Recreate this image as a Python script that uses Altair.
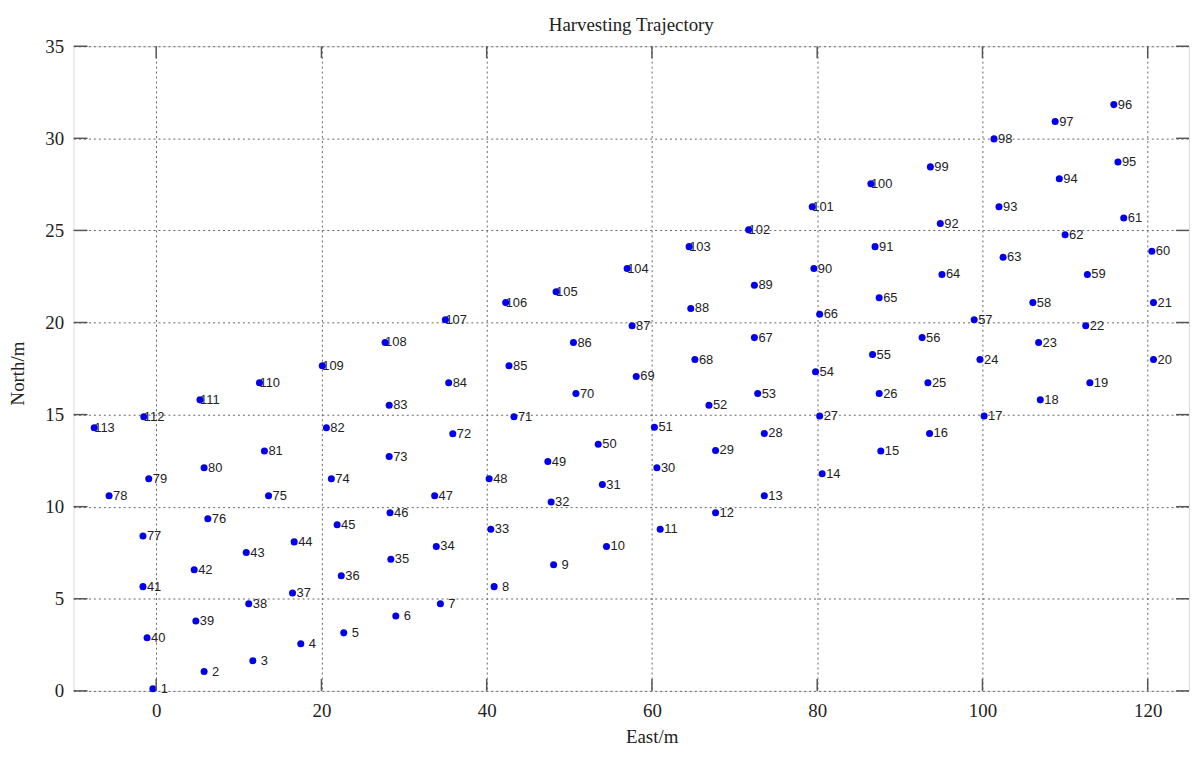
import altair as alt
import pandas as pd

# Point coordinates (East/m, North/m) for harvesting points 1..113
EAST = [-0.4, 5.8, 11.7, 17.5, 22.7, 29.0, 34.4, 40.9, 48.1, 54.5,
        61.0, 67.7, 73.6, 80.6, 87.7, 93.6, 100.2, 107.0, 113.0, 120.7,
        120.7, 112.5, 106.8, 99.7, 93.4, 87.5, 80.3, 73.6, 67.7, 60.6,
        54.0, 47.8, 40.5, 33.9, 28.4, 22.4, 16.5, 11.2, 4.8, -1.1,
        -1.6, 4.6, 10.9, 16.7, 21.9, 28.3, 33.7, 40.3, 47.4, 53.5,
        60.3, 66.9, 72.8, 79.8, 86.7, 92.7, 99.0, 106.1, 112.7, 120.5,
        117.1, 110.0, 102.5, 95.1, 87.5, 80.3, 72.4, 65.2, 58.1, 50.8,
        43.3, 35.9, 28.2, 21.2, 13.6, 6.25, -1.6, -5.7, -0.9, 5.8,
        13.1, 20.6, 28.2, 35.4, 42.7, 50.5, 57.6, 64.7, 72.4, 79.6,
        87.0, 94.9, 102.0, 109.3, 116.4, 115.9, 108.8, 101.4, 93.7, 86.5,
        79.4, 71.7, 64.5, 57.0, 48.4, 42.3, 35.0, 27.7, 20.1, 12.5,
        5.3, -1.5, -7.5]
NORTH = [0.11, 1.05, 1.64, 2.56, 3.15, 4.06, 4.73, 5.66, 6.85, 7.84,
         8.77, 9.67, 10.60, 11.79, 13.03, 13.98, 14.92, 15.80, 16.73, 17.99,
         21.08, 19.82, 18.91, 17.99, 16.73, 16.14, 14.92, 13.98, 13.05, 12.11,
         11.20, 10.26, 8.77, 7.84, 7.15, 6.25, 5.32, 4.73, 3.80, 2.88,
         5.66, 6.58, 7.51, 8.09, 9.02, 9.67, 10.60, 11.52, 12.45, 13.39,
         14.31, 15.51, 16.14, 17.33, 18.26, 19.18, 20.15, 21.08, 22.61, 23.87,
         25.68, 24.77, 23.54, 22.61, 21.35, 20.45, 19.18, 17.99, 17.07, 16.14,
         14.88, 13.96, 12.72, 11.52, 10.60, 9.35, 8.41, 10.60, 11.52, 12.11,
         13.03, 14.29, 15.51, 16.73, 17.65, 18.91, 19.82, 20.76, 22.02, 22.93,
         24.12, 25.37, 26.29, 27.80, 28.72, 31.83, 30.91, 29.97, 28.45, 27.53,
         26.29, 25.03, 24.12, 22.93, 21.67, 21.08, 20.15, 18.92, 17.65, 16.73,
         15.80, 14.88, 14.29]
LABELS = [str(i) for i in range(1, len(EAST) + 1)]

XTICKS = [0, 20, 40, 60, 80, 100, 120]
YTICKS = [0, 5, 10, 15, 20, 25, 30, 35]
XDOMAIN = [-10, 125]
YDOMAIN = [0, 35]

W, H = 1123, 649
PAD = {"left": 66, "top": 36, "right": 3, "bottom": 54}
FRAME = "#555555"
SERIF = "Liberation Serif"

df = pd.DataFrame({"east": EAST, "north": NORTH, "label": LABELS})
xt = pd.DataFrame({"t": XTICKS})
yt = pd.DataFrame({"t": YTICKS})

xscale = alt.Scale(domain=XDOMAIN, nice=False, zero=False)
yscale = alt.Scale(domain=YDOMAIN, nice=False, zero=False)

grid = dict(grid=True, gridDash=[2, 3], gridColor="#666666", gridOpacity=1,
            gridWidth=1, domain=False, ticks=False, tickSize=0,
            labelFont=SERIF, labelFontSize=19, labelColor="#222222",
            titleFont=SERIF, titleFontSize=19, titleFontWeight="normal",
            titleColor="#222222", titleAlign="center")

xaxis = alt.Axis(values=XTICKS, labelPadding=11, title="East/m",
                 titleX=582, titleY=52, titleBaseline="alphabetic", **grid)
yaxis = alt.Axis(values=YTICKS, labelPadding=10, title="North/m",
                 titleX=-56, titleY=329, titleBaseline="middle", titleAngle=270,
                 **grid)

X = lambda f: alt.X(f, scale=xscale, axis=xaxis)
Y = lambda f: alt.Y(f, scale=yscale, axis=yaxis)

base = alt.Chart(df)

points = base.mark_circle(size=50, color="#0000ee", opacity=1).encode(
    x=X("east:Q"), y=Y("north:Q"))

def text_layer(n, dx):
    return base.transform_filter(f"length(datum.label) == {n}").mark_text(
        align="left", baseline="middle", dx=dx, font="Liberation Sans",
        fontSize=13, color="#222222"
    ).encode(x=X("east:Q"), y=Y("north:Q"), text="label:N")

texts = [text_layer(1, 8), text_layer(2, 4), text_layer(3, 0)]

tick_style = dict(color=FRAME, strokeWidth=1.5)
top_ticks = alt.Chart(xt).mark_rule(**tick_style).encode(
    x=X("t:Q"), y=alt.value(0), y2=alt.value(12))
bot_ticks = alt.Chart(xt).mark_rule(**tick_style).encode(
    x=X("t:Q"), y=alt.value(H), y2=alt.value(H - 12))
left_ticks = alt.Chart(yt).mark_rule(**tick_style).encode(
    y=Y("t:Q"), x=alt.value(0), x2=alt.value(14))
right_ticks = alt.Chart(yt).mark_rule(**tick_style).encode(
    y=Y("t:Q"), x=alt.value(W), x2=alt.value(W - 13))

chart = alt.layer(
    *texts, points, top_ticks, bot_ticks, left_ticks, right_ticks
).properties(
    width=W, height=H,
    title=alt.TitleParams("Harvesting Trajectory", font=SERIF,
                          fontSize=19, fontWeight="normal", color="#222222",
                          anchor="middle", offset=2),
    autosize=alt.AutoSizeParams(type="none"),
    padding=PAD,
).configure_view(
    stroke=FRAME, strokeWidth=1.5
).configure(background="white")

chart.save("out.html", embed_options={"renderer": "svg", "actions": False})
